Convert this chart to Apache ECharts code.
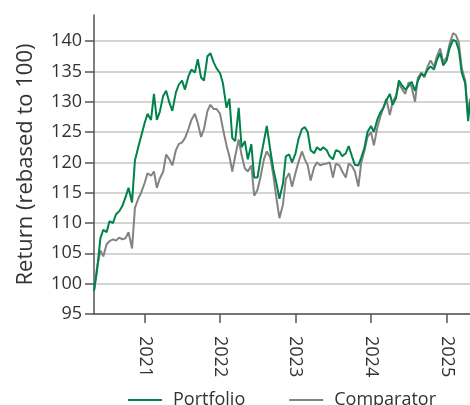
<!DOCTYPE html>
<html>
<head>
<meta charset="utf-8">
<title>Return rebased to 100</title>
<script src="https://cdn.jsdelivr.net/npm/echarts@6/dist/echarts.min.js"></script>
<style>
  html, body { margin: 0; height: 100%; background: #fff; }
  #main { width: 470px; height: 405px; }
</style>
</head>
<body>
<div id="main"></div>
<script>
// semi-monthly dates, May 2020 .. Apr 2025, plus the last day shown
var dates = [];
for (var y = 2020; y <= 2025; y++) {
  for (var m = 1; m <= 12; m++) {
    if ((y === 2020 && m < 5) || (y === 2025 && m > 4)) continue;
    var mm = (m < 10 ? '0' : '') + m;
    dates.push(y + '-' + mm + '-01');
    dates.push(y + '-' + mm + '-15');
  }
}
dates.push('2025-04-24');

var portfolio = [
  98.8, 102.0, 107.5, 108.9, 108.5, 110.3, 110.0, 111.4, 112.0, 112.8,
  114.3, 115.8, 113.4, 120.3, 122.5, 124.3, 126.5, 128.0, 127.0, 131.3,
  127.0, 128.3, 131.0, 131.8, 129.8, 128.5, 131.5, 132.8, 133.5, 132.0,
  134.2, 135.3, 134.8, 137.0, 134.0, 133.5, 137.5, 138.0, 136.5, 135.5,
  134.7, 133.0, 129.0, 130.5, 124.0, 123.5, 129.0, 122.5, 123.5, 120.5,
  123.0, 117.5, 117.5, 120.5, 123.5, 126.0, 122.0, 119.0, 116.5, 114.0,
  116.5, 121.0, 121.3, 120.0, 121.5, 123.8, 125.5, 125.8, 125.0, 122.0,
  121.5, 122.5, 122.0, 122.5, 122.0, 121.0, 120.5, 122.0, 121.8, 121.0,
  121.5, 122.7, 121.0, 119.6, 119.5, 120.8, 122.5, 125.0, 126.0, 125.0,
  127.1, 128.2, 129.0, 130.2, 131.3, 129.5, 130.6, 133.5, 132.6, 132.0,
  132.6, 133.3, 131.8, 133.5, 134.6, 134.3, 135.3, 135.8, 135.3, 136.9,
  138.0, 136.0, 136.8, 138.8, 140.2, 140.0, 138.5, 134.8, 133.0, 126.8,
  130.0
];

var comparator = [
  98.8, 102.5, 105.5, 104.5, 106.5, 107.0, 107.3, 107.1, 107.6, 107.3,
  107.5, 108.5, 105.8, 112.5, 114.0, 115.0, 116.6, 118.2, 117.8, 118.5,
  115.8, 117.3, 118.5, 121.3, 120.5, 119.5, 122.0, 123.0, 123.3, 124.0,
  125.5, 127.0, 128.0, 126.5, 124.2, 125.5, 128.5, 129.5, 128.8, 128.8,
  128.0, 125.5, 122.8, 121.0, 118.5, 121.0, 123.8, 121.2, 119.0, 118.5,
  119.5, 114.5, 115.5, 117.5, 120.5, 121.8, 120.8, 118.0, 114.0, 110.8,
  113.0, 117.3, 118.2, 116.0, 118.3, 120.0, 121.8, 120.5, 119.5, 117.0,
  119.2, 120.0, 119.5, 119.7, 119.8, 120.0, 117.5, 119.8, 119.5, 118.5,
  117.5, 119.8, 119.4, 118.5, 116.0, 120.0, 122.0, 124.2, 125.0, 122.8,
  125.8, 127.5, 129.0, 130.5, 127.8, 130.0, 131.0, 133.0, 132.0, 131.3,
  133.2, 132.5, 130.0, 134.0, 134.8, 134.0, 135.8, 136.8, 135.8, 137.5,
  138.8, 136.5, 137.3, 139.5, 141.3, 141.0, 139.8, 135.5, 133.5, 127.5,
  130.5
];

function pairs(vals) {
  return vals.map(function (v, i) { return [dates[i], v]; });
}

var YEAR = 365 * 24 * 3600 * 1000;
var font = '"Open Sans", "Noto Sans", sans-serif';
var gridColors = [];
for (var k = 0; k < 10; k++) gridColors.push('#d4d4d4');
gridColors.push('transparent');

var chart = echarts.init(document.getElementById('main'), null, { renderer: 'canvas' });
chart.setOption({
  animation: false,
  textStyle: { fontFamily: font },
  grid: { left: 94, right: 0, top: 15, bottom: 91, containLabel: false },
  xAxis: {
    type: 'time',
    min: '2020-05-01',
    max: '2025-04-24',
    minInterval: YEAR,
    maxInterval: YEAR + 24 * 3600 * 1000,
    axisLine: { lineStyle: { color: '#555', width: 1.5 } },
    axisTick: { show: true, length: 9, lineStyle: { color: '#555', width: 1.5 } },
    axisLabel: {
      rotate: -90, margin: 22, color: '#333', fontSize: 18, fontFamily: font,
      formatter: '{yyyy}', showMinLabel: false, showMaxLabel: false
    },
    splitLine: { show: false }
  },
  yAxis: {
    type: 'value',
    min: 95,
    max: 144.3,
    interval: 5,
    name: 'Return (rebased to 100)',
    nameLocation: 'middle',
    nameGap: 57,
    nameTextStyle: { color: '#333', fontSize: 22, fontFamily: font },
    axisLine: { show: true, lineStyle: { color: '#555', width: 1.5 } },
    axisTick: { show: true, length: 9, lineStyle: { color: '#555', width: 1.5 } },
    axisLabel: { color: '#333', fontSize: 18, margin: 12, fontFamily: font, showMaxLabel: false },
    splitLine: { show: true, lineStyle: { color: gridColors, width: 2 } }
  },
  legend: {
    data: ['Portfolio', 'Comparator'],
    left: 123,
    top: 386,
    icon: 'rect',
    itemWidth: 34,
    itemHeight: 2,
    itemGap: 44,
    textStyle: { color: '#333', fontSize: 18, fontFamily: font, padding: [0, 0, 0, 6] }
  },
  series: [
    {
      name: 'Comparator',
      type: 'line',
      data: pairs(comparator),
      showSymbol: false,
      lineStyle: { color: '#838383', width: 2 },
      itemStyle: { color: '#838383' }
    },
    {
      name: 'Portfolio',
      type: 'line',
      data: pairs(portfolio),
      showSymbol: false,
      lineStyle: { color: '#00834A', width: 2 },
      itemStyle: { color: '#00834A' }
    }
  ]
});
</script>
</body>
</html>
